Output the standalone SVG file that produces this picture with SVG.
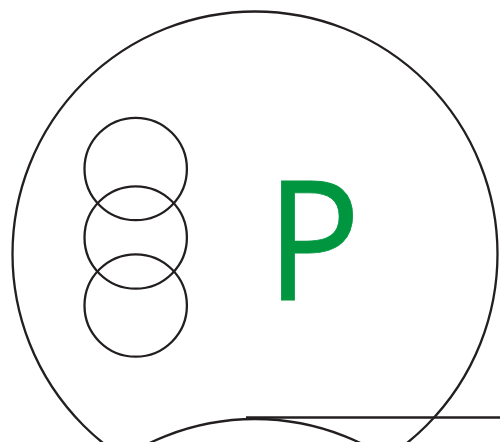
<svg xmlns="http://www.w3.org/2000/svg" width="500" height="442" viewBox="0 0 500 442">
<style>
.o{fill:none;stroke:#231f20;stroke-width:2.3}
.t{font-family:"Open Sans",sans-serif;fill:#009640}
</style>
<rect width="500" height="442" fill="#fff"/>
<g id="outer"><circle class="o" cx="255" cy="254" r="242.5"/></g>
<g id="c1"><circle class="o" cx="135.7" cy="169" r="51.2"/></g>
<g id="c2"><circle class="o" cx="135.7" cy="237.5" r="51.2"/></g>
<g id="c3"><circle class="o" cx="135.7" cy="305.5" r="51.2"/></g>
<g id="bottom"><circle class="o" cx="255" cy="662" r="243"/></g>
<g id="connectors"><line class="o" x1="246" y1="417.5" x2="500" y2="417.5"/></g>
<g id="label"><text class="t" transform="translate(266 300) scale(0.95 1)" font-size="166" stroke="#009640" stroke-width="0.8">P</text></g>
</svg>
